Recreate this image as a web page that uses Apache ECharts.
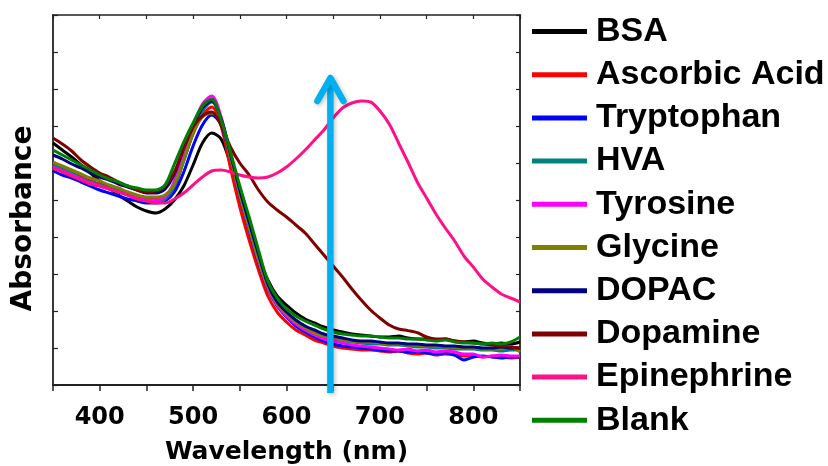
<!DOCTYPE html>
<html>
<head>
<meta charset="utf-8">
<script src="https://cdn.jsdelivr.net/npm/echarts@6/dist/echarts.min.js"></script>
<style>
  html, body { margin: 0; padding: 0; background: #ffffff; }
  #chart { width: 828px; height: 466px; }
</style>
</head>
<body>
<div id="chart"></div>
<script>
// UV-vis absorbance spectra, sampled every 10 nm from 350 to 850 nm (arbitrary absorbance units)
const wavelengths = [350, 360, 370, 380, 390, 400, 410, 420, 430, 440, 450, 460, 470, 480, 490, 500, 510, 520, 530, 540, 550, 560, 570, 580, 590, 600, 610, 620, 630, 640, 650, 660, 670, 680, 690, 700, 710, 720, 730, 740, 750, 760, 770, 780, 790, 800, 810, 820, 830, 840, 850];

const bsa = [1.21, 1.175, 1.14, 1.1, 1.06, 1.02, 0.985, 0.95, 0.92, 0.89, 0.87, 0.86, 0.88, 0.925, 0.995, 1.1, 1.21, 1.26, 1.23, 1.105, 0.945, 0.795, 0.645, 0.525, 0.445, 0.4, 0.36, 0.33, 0.31, 0.29, 0.275, 0.265, 0.255, 0.25, 0.245, 0.24, 0.24, 0.245, 0.235, 0.23, 0.23, 0.225, 0.23, 0.22, 0.215, 0.22, 0.21, 0.205, 0.21, 0.205, 0.215];
const ascorbicAcid = [1.1, 1.08, 1.06, 1.04, 1.02, 1.005, 0.99, 0.975, 0.96, 0.945, 0.935, 0.93, 0.94, 0.99, 1.125, 1.255, 1.35, 1.39, 1.295, 1.085, 0.89, 0.725, 0.575, 0.445, 0.365, 0.315, 0.275, 0.25, 0.225, 0.21, 0.195, 0.185, 0.18, 0.175, 0.175, 0.17, 0.165, 0.17, 0.16, 0.155, 0.16, 0.15, 0.155, 0.15, 0.145, 0.15, 0.14, 0.145, 0.14, 0.135, 0.14];
const tryptophan = [1.07, 1.05, 1.035, 1.015, 0.995, 0.975, 0.96, 0.945, 0.93, 0.92, 0.91, 0.91, 0.92, 0.965, 1.065, 1.195, 1.3, 1.35, 1.3, 1.135, 0.945, 0.775, 0.615, 0.48, 0.395, 0.34, 0.295, 0.265, 0.24, 0.22, 0.205, 0.195, 0.19, 0.185, 0.18, 0.175, 0.17, 0.17, 0.165, 0.165, 0.16, 0.155, 0.16, 0.15, 0.125, 0.14, 0.145, 0.14, 0.135, 0.14, 0.14];
const hva = [1.1, 1.08, 1.06, 1.035, 1.015, 1.0, 0.985, 0.97, 0.955, 0.94, 0.925, 0.92, 0.93, 0.995, 1.12, 1.26, 1.37, 1.415, 1.33, 1.15, 0.965, 0.8, 0.635, 0.495, 0.405, 0.35, 0.31, 0.28, 0.255, 0.24, 0.23, 0.22, 0.215, 0.21, 0.205, 0.205, 0.2, 0.2, 0.195, 0.19, 0.19, 0.185, 0.185, 0.18, 0.18, 0.18, 0.175, 0.175, 0.17, 0.175, 0.175];
const tyrosine = [1.09, 1.07, 1.05, 1.03, 1.01, 0.995, 0.98, 0.965, 0.95, 0.935, 0.925, 0.925, 0.94, 1.02, 1.165, 1.295, 1.405, 1.445, 1.34, 1.155, 0.965, 0.795, 0.625, 0.485, 0.4, 0.345, 0.305, 0.275, 0.25, 0.23, 0.22, 0.21, 0.2, 0.195, 0.19, 0.185, 0.18, 0.175, 0.18, 0.17, 0.175, 0.165, 0.17, 0.165, 0.155, 0.155, 0.14, 0.145, 0.15, 0.145, 0.145];
const glycine = [1.115, 1.095, 1.075, 1.055, 1.035, 1.02, 1.0, 0.985, 0.965, 0.95, 0.94, 0.94, 0.95, 1.005, 1.125, 1.26, 1.34, 1.36, 1.315, 1.135, 0.95, 0.785, 0.625, 0.49, 0.405, 0.355, 0.315, 0.285, 0.26, 0.245, 0.235, 0.225, 0.22, 0.215, 0.215, 0.21, 0.205, 0.205, 0.2, 0.2, 0.195, 0.195, 0.19, 0.19, 0.185, 0.185, 0.18, 0.18, 0.18, 0.19, 0.165];
const dopac = [1.15, 1.13, 1.105, 1.085, 1.06, 1.04, 1.025, 1.005, 0.99, 0.975, 0.96, 0.96, 0.98, 1.055, 1.185, 1.295, 1.385, 1.42, 1.33, 1.155, 0.975, 0.815, 0.655, 0.505, 0.415, 0.365, 0.325, 0.295, 0.275, 0.255, 0.245, 0.235, 0.225, 0.22, 0.22, 0.215, 0.21, 0.21, 0.205, 0.205, 0.2, 0.2, 0.195, 0.195, 0.19, 0.19, 0.185, 0.185, 0.19, 0.185, 0.185];
const dopamine = [1.235, 1.205, 1.17, 1.125, 1.09, 1.06, 1.04, 1.015, 0.995, 0.975, 0.965, 0.97, 0.995, 1.065, 1.185, 1.29, 1.345, 1.365, 1.3, 1.19, 1.11, 1.05, 0.975, 0.915, 0.875, 0.84, 0.8, 0.76, 0.705, 0.65, 0.595, 0.54, 0.48, 0.425, 0.375, 0.335, 0.3, 0.28, 0.272, 0.262, 0.24, 0.23, 0.23, 0.22, 0.215, 0.21, 0.205, 0.2, 0.195, 0.19, 0.185];
const epinephrine = [1.085, 1.065, 1.045, 1.025, 1.005, 0.995, 0.98, 0.965, 0.95, 0.93, 0.92, 0.91, 0.91, 0.93, 0.96, 1.0, 1.04, 1.07, 1.075, 1.065, 1.05, 1.04, 1.035, 1.04, 1.06, 1.09, 1.13, 1.175, 1.225, 1.275, 1.335, 1.385, 1.41, 1.42, 1.415, 1.37, 1.305, 1.21, 1.115, 1.015, 0.935, 0.855, 0.785, 0.72, 0.645, 0.59, 0.53, 0.49, 0.455, 0.435, 0.415];
const blank = [1.175, 1.15, 1.125, 1.1, 1.075, 1.05, 1.03, 1.015, 0.995, 0.985, 0.975, 0.975, 1.0, 1.105, 1.215, 1.31, 1.395, 1.43, 1.325, 1.165, 0.995, 0.84, 0.675, 0.52, 0.435, 0.38, 0.345, 0.32, 0.3, 0.28, 0.265, 0.255, 0.25, 0.245, 0.245, 0.24, 0.235, 0.235, 0.23, 0.23, 0.225, 0.22, 0.225, 0.215, 0.21, 0.21, 0.205, 0.21, 0.205, 0.215, 0.24];

const seriesNames  = ['BSA', 'Ascorbic Acid', 'Tryptophan', 'HVA', 'Tyrosine', 'Glycine', 'DOPAC', 'Dopamine', 'Epinephrine', 'Blank'];
const seriesValues = [bsa, ascorbicAcid, tryptophan, hva, tyrosine, glycine, dopac, dopamine, epinephrine, blank];
const seriesColors = ['#000000', '#ff0000', '#0000ff', '#008080', '#ff00ff', '#808000', '#000080', '#800000', '#ff1088', '#008000'];

// Upward arrow marking the growth of the ~680 nm band: [wavelength, start, end]
const arrowSpec = [[647, -0.04, 1.55]];

const xTicks = { min: 350, max: 850, interval: 50 };
const yTicks = { min: 0, max: 1.85, interval: 0.185 };

const axisColor = '#222222';
const axisFont = 'DejaVu Sans, Liberation Sans, Arial, sans-serif';

const lineSeries = seriesNames.map((name, i) => ({
  name: name,
  type: 'line',
  data: wavelengths.map((w, k) => [w, seriesValues[i][k]]),
  showSymbol: false,
  smooth: 0.3,
  lineStyle: { color: seriesColors[i], width: 3 },
  itemStyle: { color: seriesColors[i] },
  z: 2 + i,
  silent: true
}));

const arrowColor = '#00b0f0';
const arrowSeries = {
  name: 'arrow',
  type: 'custom',
  data: arrowSpec,
  clip: false,
  silent: true,
  z: 30,
  renderItem: function (params, api) {
    const base = api.coord([api.value(0), api.value(1)]);
    const tip = api.coord([api.value(0), api.value(2)]);
    const shadow = { shadowColor: 'rgba(0,0,0,0.25)', shadowBlur: 4, shadowOffsetX: 1.5, shadowOffsetY: 1.5 };
    return {
      type: 'group',
      children: [
        {
          type: 'line',
          shape: { x1: base[0], y1: base[1], x2: tip[0], y2: tip[1] + 4 },
          style: Object.assign({ stroke: arrowColor, lineWidth: 6.5, lineCap: 'butt' }, shadow)
        },
        {
          type: 'polyline',
          shape: { points: [[tip[0] - 13, tip[1] + 26], [tip[0], tip[1] + 3], [tip[0] + 13, tip[1] + 26]] },
          style: Object.assign({ stroke: arrowColor, fill: null, lineWidth: 6.5, lineJoin: 'round', lineCap: 'round' }, shadow)
        }
      ]
    };
  }
};

const chart = echarts.init(document.getElementById('chart'), null, { renderer: 'canvas' });

chart.setOption({
  animation: false,
  backgroundColor: '#ffffff',
  grid: { left: 53, right: 308, top: 15, bottom: 81, containLabel: false, outerBoundsMode: 'none' },
  legend: {
    data: seriesNames,
    orient: 'vertical',
    left: 532,
    top: 10,
    padding: 0,
    itemWidth: 55,
    itemHeight: 5,
    itemGap: 0.2,
    icon: 'rect',
    selectedMode: false,
    itemStyle: { borderWidth: 0 },
    textStyle: {
      fontFamily: 'Liberation Sans, Arial, sans-serif',
      fontWeight: 'bold',
      fontSize: 34,
      lineHeight: 33,
      color: '#000000',
      padding: [0, 0, 10, 4]
    }
  },
  xAxis: [
    {
      type: 'value',
      position: 'bottom',
      min: xTicks.min, max: xTicks.max, interval: xTicks.interval,
      name: 'Wavelength (nm)',
      nameLocation: 'middle',
      nameGap: 55,
      nameTextStyle: { fontFamily: axisFont, fontWeight: 'bold', fontSize: 25, color: '#000000' },
      axisLine: { show: true, onZero: false, lineStyle: { color: axisColor, width: 1.8 } },
      axisTick: { show: true, inside: false, length: 6, lineStyle: { color: axisColor, width: 1.5 } },
      axisLabel: {
        show: true, margin: 21,
        fontFamily: axisFont, fontWeight: 'bold', fontSize: 24, color: '#000000',
        formatter: v => (v % 100 === 0 ? String(v) : '')
      },
      splitLine: { show: false }
    },
    {
      type: 'value',
      position: 'top',
      min: xTicks.min, max: xTicks.max, interval: xTicks.interval,
      axisLine: { show: true, onZero: false, lineStyle: { color: axisColor, width: 1.5 } },
      axisTick: { show: true, inside: true, length: 4, lineStyle: { color: axisColor, width: 1.2 } },
      axisLabel: { show: false },
      splitLine: { show: false }
    }
  ],
  yAxis: [
    {
      type: 'value',
      position: 'left',
      min: yTicks.min, max: yTicks.max, interval: yTicks.interval,
      name: 'Absorbance',
      nameLocation: 'middle',
      nameGap: 15,
      nameTextStyle: { fontFamily: axisFont, fontWeight: 'bold', fontSize: 28, color: '#000000', padding: [0, 37, 0, 0] },
      axisLine: { show: true, onZero: false, lineStyle: { color: axisColor, width: 1.8 } },
      axisTick: { show: true, inside: true, length: 5, lineStyle: { color: axisColor, width: 1.2 } },
      axisLabel: { show: false },
      splitLine: { show: false }
    },
    {
      type: 'value',
      position: 'right',
      min: yTicks.min, max: yTicks.max, interval: yTicks.interval,
      axisLine: { show: true, onZero: false, lineStyle: { color: axisColor, width: 1.8 } },
      axisTick: { show: true, inside: true, length: 4, lineStyle: { color: axisColor, width: 1.2 } },
      axisLabel: { show: false },
      splitLine: { show: false }
    }
  ],
  series: lineSeries.concat([arrowSeries])
});
</script>
</body>
</html>
